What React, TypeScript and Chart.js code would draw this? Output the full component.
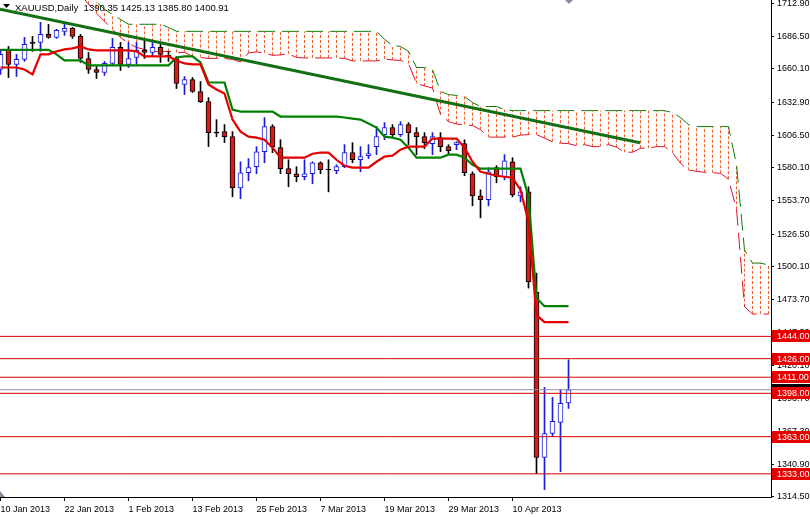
import React, { useEffect, useRef } from 'react';
import { Chart, registerables } from 'chart.js';
Chart.register(...registerables);

const chartTitle = 'XAUUSD,Daily  1390.35 1425.13 1385.80 1400.91';
const dateTickIdx = [0, 8, 16, 24, 32, 40, 48, 56, 64];
const dateLabels = ['10 Jan 2013', '22 Jan 2013', '1 Feb 2013', '13 Feb 2013', '25 Feb 2013', '7 Mar 2013', '19 Mar 2013', '29 Mar 2013', '10 Apr 2013'];
const priceTicks = [1314.5, 1340.9, 1367.3, 1393.7, 1420.1, 1447.3, 1473.7, 1500.1, 1526.5, 1553.7, 1580.1, 1606.5, 1632.9, 1660.1, 1686.5, 1712.9];

const opens = [1659.5, 1675.7, 1663.6, 1667.6, 1680.6, 1681.4, 1687.9, 1685.4, 1690.3, 1692.7, 1686.2, 1668.4, 1659.5, 1657.1, 1664.4, 1677.3, 1663.6, 1669.2, 1674.9, 1673.3, 1677.3, 1670.9, 1668.4, 1647.4, 1651.4, 1641.7, 1633.6, 1608.9, 1609.3, 1605.3, 1563.9, 1576.1, 1581.0, 1593.1, 1613.4, 1596.4, 1579.4, 1575.3, 1572.9, 1575.3, 1584.2, 1578.9, 1577.7, 1581.0, 1592.3, 1586.6, 1589.9, 1597.2, 1606.9, 1612.6, 1606.9, 1615.0, 1608.5, 1605.3, 1599.6, 1604.5, 1597.2, 1598.8, 1599.6, 1575.3, 1557.5, 1554.3, 1580.2, 1572.9, 1585.0, 1557.5, 1560.7, 1479.8, 1346.2, 1365.6, 1374.5, 1390.35];
const highs = [1675.7, 1678.1, 1671.7, 1685.4, 1686.2, 1697.6, 1696.0, 1691.9, 1696.0, 1693.5, 1687.9, 1673.3, 1661.9, 1666.0, 1684.6, 1681.4, 1681.4, 1681.4, 1683.8, 1681.4, 1681.4, 1674.1, 1670.0, 1653.8, 1653.0, 1649.8, 1636.8, 1619.0, 1615.0, 1609.3, 1585.0, 1587.5, 1597.2, 1620.7, 1615.0, 1602.8, 1586.6, 1581.0, 1586.6, 1585.0, 1585.0, 1586.6, 1582.6, 1598.8, 1600.4, 1597.2, 1598.8, 1613.4, 1616.6, 1615.0, 1617.4, 1616.6, 1612.6, 1608.5, 1608.5, 1608.5, 1598.8, 1601.2, 1602.8, 1576.9, 1562.3, 1580.2, 1581.8, 1590.7, 1588.3, 1564.8, 1564.8, 1495.1, 1402.8, 1394.7, 1401.2, 1425.13];
const lows = [1655.5, 1653.0, 1653.8, 1666.0, 1674.1, 1674.1, 1684.6, 1684.6, 1687.0, 1684.6, 1665.2, 1656.3, 1652.2, 1654.7, 1662.8, 1658.7, 1661.1, 1663.6, 1668.4, 1670.0, 1665.2, 1666.0, 1644.1, 1639.3, 1640.9, 1632.8, 1597.2, 1605.3, 1600.4, 1556.7, 1555.1, 1569.6, 1575.3, 1584.2, 1592.3, 1575.3, 1564.8, 1568.8, 1570.4, 1567.2, 1575.3, 1560.7, 1575.3, 1580.2, 1584.2, 1576.9, 1587.5, 1590.7, 1602.8, 1605.3, 1605.3, 1598.8, 1590.7, 1595.6, 1590.7, 1593.1, 1590.7, 1594.7, 1573.7, 1549.4, 1539.7, 1549.4, 1568.0, 1570.4, 1556.7, 1552.6, 1483.0, 1333.2, 1320.3, 1363.2, 1334.8, 1385.80];
const closes = [1671.7, 1663.6, 1667.6, 1679.8, 1681.4, 1687.9, 1685.4, 1691.1, 1692.7, 1686.2, 1668.4, 1659.5, 1657.1, 1664.4, 1677.3, 1663.6, 1668.4, 1674.9, 1673.3, 1677.3, 1671.7, 1670.0, 1648.2, 1651.4, 1641.7, 1633.6, 1608.5, 1608.1, 1605.3, 1563.9, 1576.1, 1580.2, 1593.1, 1613.4, 1597.2, 1579.4, 1575.3, 1572.9, 1575.3, 1584.2, 1578.5, 1578.3, 1581.0, 1592.3, 1586.6, 1589.1, 1591.5, 1605.3, 1612.6, 1606.9, 1615.0, 1608.5, 1605.3, 1600.4, 1605.3, 1597.2, 1593.9, 1600.4, 1576.1, 1557.5, 1554.3, 1576.9, 1572.9, 1585.8, 1558.3, 1560.7, 1487.9, 1346.2, 1365.6, 1375.3, 1389.9, 1400.91];

const tenkan = [1661.1, 1661.1, 1661.1, 1659.5, 1655.5, 1671.7, 1671.7, 1674.1, 1675.7, 1676.5, 1678.1, 1675.7, 1674.9, 1674.9, 1674.9, 1674.9, 1674.9, 1674.1, 1670.0, 1670.0, 1670.0, 1670.0, 1666.8, 1664.4, 1663.6, 1663.6, 1647.4, 1643.3, 1640.1, 1619.0, 1609.3, 1605.3, 1604.5, 1602.8, 1596.4, 1588.3, 1588.3, 1588.3, 1588.3, 1591.5, 1592.3, 1592.3, 1586.6, 1581.8, 1580.2, 1580.2, 1580.2, 1585.0, 1589.1, 1589.9, 1594.7, 1597.2, 1597.2, 1597.2, 1603.7, 1603.7, 1603.7, 1603.7, 1596.4, 1585.0, 1576.9, 1575.3, 1573.7, 1572.9, 1572.1, 1562.3, 1536.4, 1461.1, 1455.5, 1455.5, 1455.5, 1455.5];
const kijun = [1675.3, 1675.3, 1675.3, 1675.3, 1675.3, 1675.3, 1675.3, 1671.7, 1666.8, 1666.8, 1666.8, 1662.8, 1662.8, 1662.8, 1662.8, 1662.8, 1662.8, 1662.8, 1662.8, 1662.8, 1662.8, 1662.8, 1669.2, 1670.0, 1670.0, 1665.2, 1649.0, 1649.0, 1649.0, 1627.1, 1625.5, 1625.5, 1625.5, 1625.5, 1625.5, 1621.5, 1621.5, 1621.5, 1621.5, 1621.5, 1621.5, 1621.5, 1621.5, 1620.7, 1619.8, 1619.0, 1615.8, 1612.6, 1605.3, 1604.5, 1602.8, 1596.4, 1588.3, 1588.3, 1588.3, 1588.3, 1590.7, 1590.7, 1588.3, 1582.6, 1579.4, 1579.4, 1579.4, 1579.4, 1579.4, 1579.4, 1556.7, 1474.9, 1468.4, 1468.4, 1468.4, 1468.4];

const cloudStart = 10;
const spanA = [1720.2, 1712.2, 1704.9, 1698.4, 1691.9, 1685.4, 1680.6, 1677.3, 1675.7, 1674.1, 1674.1, 1674.1, 1673.3, 1673.3, 1670.0, 1669.2, 1668.4, 1668.4, 1668.4, 1667.6, 1665.6, 1672.9, 1673.7, 1672.9, 1670.9, 1671.3, 1672.1, 1669.2, 1668.8, 1668.8, 1668.8, 1668.8, 1668.8, 1668.4, 1666.4, 1666.4, 1666.4, 1666.4, 1668.0, 1667.2, 1666.8, 1664.4, 1648.2, 1646.2, 1644.5, 1623.1, 1617.4, 1615.4, 1615.0, 1614.2, 1610.9, 1604.9, 1604.9, 1604.9, 1604.9, 1606.5, 1606.9, 1606.9, 1604.1, 1601.2, 1600.0, 1599.6, 1598.0, 1598.8, 1597.2, 1597.2, 1598.8, 1596.8, 1592.7, 1592.7, 1595.9, 1595.9, 1597.2, 1597.2, 1592.3, 1583.8, 1578.1, 1577.3, 1576.5, 1576.1, 1575.7, 1570.9, 1546.6, 1468.0, 1462.0, 1462.0, 1462.0];
const spanB = [1725.9, 1721.1, 1713.8, 1708.1, 1704.1, 1700.0, 1696.0, 1696.0, 1696.0, 1696.0, 1696.0, 1693.5, 1690.3, 1690.3, 1690.3, 1690.3, 1690.3, 1690.3, 1690.3, 1690.3, 1690.3, 1690.3, 1690.3, 1690.3, 1690.3, 1690.3, 1690.3, 1690.3, 1690.3, 1690.3, 1690.3, 1690.3, 1690.3, 1690.3, 1690.3, 1690.3, 1690.3, 1690.3, 1683.8, 1678.9, 1678.1, 1674.1, 1661.1, 1661.1, 1659.5, 1641.7, 1639.3, 1638.5, 1637.7, 1632.8, 1629.6, 1629.6, 1629.6, 1627.1, 1626.3, 1626.3, 1626.3, 1626.3, 1626.3, 1626.3, 1626.3, 1626.3, 1626.3, 1626.3, 1626.3, 1626.3, 1626.3, 1626.3, 1626.3, 1626.3, 1626.3, 1626.3, 1626.3, 1626.3, 1624.7, 1620.7, 1615.0, 1613.4, 1613.4, 1613.4, 1613.4, 1613.4, 1582.6, 1513.8, 1503.2, 1503.2, 1501.6];

const trendX = [-0.06, 79.94];
const trendY = [1708.1, 1600.4];
const levels = [1444, 1426, 1411, 1398, 1363, 1333];
const lastPrice = 1400.91;

const X_MIN = -0.0625;
const X_MAX = 96.3125;
const Y_MIN = 1314.3;
const Y_MAX = 1715.6;
const FONT = '"Liberation Sans", Arial, sans-serif';

const RED_BODY = '#d91a1a';
const BLUE = '#1a1adc';

function buildConfig(): any {
  const idx = opens.map((_, i) => i);
  const up = idx.map(i => closes[i] >= opens[i]);
  const doji = idx.map(i => Math.abs(closes[i] - opens[i]) < 1);
  const wickData = idx.map(i => ({ x: i, y: [lows[i], highs[i]] }));
  const bodyData = idx.map(i => ({ x: i, y: [Math.min(opens[i], closes[i]), Math.max(opens[i], closes[i])] }));
  const hatch: any[] = [];
  spanA.forEach((a, k) => {
    const j = cloudStart + k;
    hatch.push({ x: j, y: a }, { x: j, y: spanB[k] }, { x: j, y: null });
  });
  const lineBase = { type: 'line', pointRadius: 0, pointHoverRadius: 0, fill: false, tension: 0, clip: 0 };
  const datasets: any[] = [
    { ...lineBase, label: 'cloud', data: hatch, borderColor: '#f0602a', borderWidth: 1, borderDash: [3, 2], spanGaps: false, order: 10 },
    { ...lineBase, label: 'Senkou A', data: spanA.map((v, k) => ({ x: cloudStart + k, y: v })), borderColor: '#dd1133', borderWidth: 1, borderDash: [17, 7], order: 9 },
    { ...lineBase, label: 'Senkou B', data: spanB.map((v, k) => ({ x: cloudStart + k, y: v })), borderColor: '#0a7d0a', borderWidth: 1, borderDash: [17, 7], order: 9 },
    {
      type: 'bar', label: 'wick', data: wickData, barThickness: 1, grouped: false, order: 8,
      backgroundColor: idx.map(i => (up[i] && !doji[i] ? BLUE : '#000000')), borderWidth: 0,
    },
    {
      type: 'bar', label: 'body', data: bodyData, barThickness: 5, grouped: false, order: 7,
      backgroundColor: idx.map(i => (doji[i] ? '#000000' : up[i] ? '#ffffff' : RED_BODY)),
      borderColor: idx.map(i => (doji[i] ? '#000000' : up[i] ? BLUE : '#000000')),
      borderWidth: 1, borderSkipped: false,
    },
    { ...lineBase, label: 'Tenkan', data: tenkan.map((v, i) => ({ x: i, y: v })), borderColor: '#e50000', borderWidth: 2.2, order: 5 },
    { ...lineBase, label: 'Kijun', data: kijun.map((v, i) => ({ x: i, y: v })), borderColor: '#008000', borderWidth: 2.2, order: 5 },
    { ...lineBase, label: 'trend', data: trendX.map((x, k) => ({ x, y: trendY[k] })), borderColor: '#136f13', borderWidth: 3, order: 4 },
    { ...lineBase, label: 'last', data: [{ x: X_MIN, y: lastPrice }, { x: X_MAX, y: lastPrice }], borderColor: '#9090a8', borderWidth: 1, order: 3 },
    ...levels.map(l => ({ ...lineBase, label: 'lvl' + l, data: [{ x: X_MIN, y: l }, { x: X_MAX, y: l }], borderColor: '#d40000', borderWidth: 1, order: 2 })),
  ];

  const overlay = {
    id: 'overlay',
    afterDraw(chart: any) {
      const ctx = chart.ctx;
      const ys = chart.scales.y;
      const area = chart.chartArea;
      ctx.save();
      ctx.font = '9px ' + FONT;
      ctx.textBaseline = 'middle';
      ctx.textAlign = 'left';
      const drawLabel = (v: number, bg: string) => {
        const cy = Math.round(ys.getPixelForValue(v));
        ctx.fillStyle = bg;
        ctx.fillRect(area.right + 1, cy - 6, 40, 12);
        ctx.fillStyle = '#ffffff';
        ctx.fillText(v.toFixed(2), area.right + 6, cy + 0.5);
      };
      drawLabel(lastPrice, '#000000');
      levels.forEach(l => drawLabel(l, '#e80000'));
      // title
      ctx.fillStyle = '#000000';
      ctx.beginPath();
      ctx.moveTo(3, 4); ctx.lineTo(10, 4); ctx.lineTo(6.5, 8); ctx.closePath();
      ctx.fill();
      ctx.textBaseline = 'alphabetic';
      ctx.font = '9.5px ' + FONT;
      ctx.fillText(chartTitle, 15, 11);
      // shift markers
      ctx.fillStyle = '#8a8aa0';
      ctx.beginPath();
      ctx.moveTo(565, 0); ctx.lineTo(573, 0); ctx.lineTo(569, 4); ctx.closePath();
      ctx.fill();
      ctx.beginPath();
      ctx.moveTo(0, 491); ctx.lineTo(5, 497); ctx.lineTo(0, 497); ctx.closePath();
      ctx.fill();
      ctx.restore();
    },
  };

  return {
    type: 'bar',
    data: { datasets },
    plugins: [overlay],
    options: {
      animation: false,
      responsive: false,
      devicePixelRatio: 1,
      events: [],
      layout: { padding: 0 },
      plugins: { legend: { display: false }, tooltip: { enabled: false }, title: { display: false } },
      scales: {
        x: {
          type: 'linear', min: X_MIN, max: X_MAX, offset: false,
          grid: { display: true, drawOnChartArea: false, drawTicks: true, tickLength: 4, color: '#000000', tickColor: '#000000', offset: false },
          border: { display: true, color: '#000000', width: 1 },
          afterBuildTicks: (s: any) => { s.ticks = dateTickIdx.map(v => ({ value: v })); },
          ticks: {
            autoSkip: false, maxRotation: 0, minRotation: 0, align: 'start', padding: 3, color: '#000000',
            font: { family: FONT, size: 9 },
            callback: (_v: any, i: number) => dateLabels[i],
          },
          afterFit: (s: any) => { s.height = 20; s.paddingLeft = 0; s.paddingRight = 0; },
        },
        y: {
          type: 'linear', position: 'right', min: Y_MIN, max: Y_MAX,
          grid: { display: true, drawOnChartArea: false, drawTicks: true, tickLength: 3, color: '#000000', tickColor: '#000000' },
          border: { display: true, color: '#000000', width: 1 },
          afterBuildTicks: (s: any) => { s.ticks = priceTicks.map(v => ({ value: v })); },
          ticks: {
            autoSkip: false, padding: 3, color: '#000000',
            font: { family: FONT, size: 9 },
            callback: (v: any) => Number(v).toFixed(2),
          },
          afterFit: (s: any) => { s.width = 39; s.paddingTop = 0; s.paddingBottom = 0; },
        },
      },
    },
  };
}

export default function App() {
  const ref = useRef<HTMLCanvasElement>(null);
  useEffect(() => {
    document.body.style.margin = '0';
    const chart = new Chart(ref.current as HTMLCanvasElement, buildConfig());
    return () => chart.destroy();
  }, []);
  return (
    <div style={{ position: 'fixed', left: 0, top: 0, width: 810, height: 517, background: '#ffffff' }}>
      <canvas ref={ref} width={810} height={517} style={{ display: 'block' }} />
    </div>
  );
}
